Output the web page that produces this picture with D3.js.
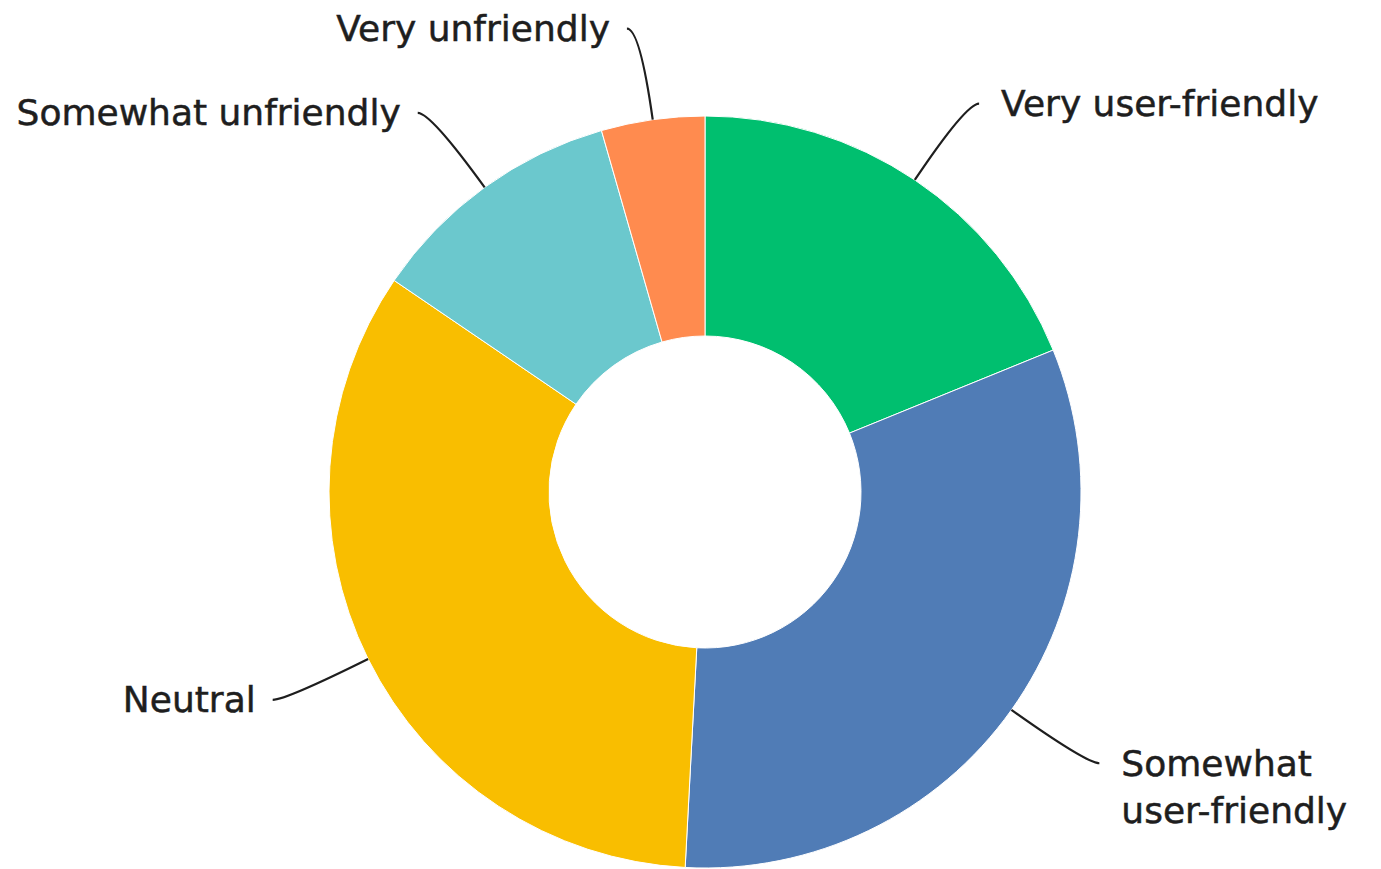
<!DOCTYPE html>
<html>
<head>
<meta charset="utf-8">
<script src="https://cdn.jsdelivr.net/npm/d3@7/dist/d3.min.js"></script>
<style>
  html, body { margin: 0; padding: 0; background: #fff; }
  svg { display: block; }
  .label { font-family: "DejaVu Sans", sans-serif; font-size: 36px; fill: #1e1e1e; stroke: #1e1e1e; stroke-width: 0.5px; }
</style>
</head>
<body>
<svg id="chart" width="1381" height="869"></svg>
<script>
// Survey answers, percent of respondents
const categories = ["Very user-friendly", "Somewhat user-friendly", "Neutral", "Somewhat unfriendly", "Very unfriendly"];
const values = [18.84, 32.0, 33.67, 11.05, 4.44];
const colors = ["#00BF6F", "#507CB6", "#F9BE00", "#6BC8CD", "#FF8B4F"];

const W = 1381, H = 869;
const cx = 705, cy = 492;
const outerR = 376, innerR = 156;
const leaderExt = 92;   // radial run of the leader line past the rim
const leaderTail = 13;  // horizontal end of the leader line
const capH = 25;        // approximate cap height of label text
const lineH = 47;

const data = categories.map((c, i) => ({ category: c, value: values[i], color: colors[i] }));

const svg = d3.select("#chart");
const g = svg.append("g").attr("transform", `translate(${cx},${cy})`);

const pie = d3.pie().value(d => d.value).sort(null);
const arcs = pie(data);

const arc = d3.arc().innerRadius(innerR).outerRadius(outerR);

g.selectAll("path.slice")
  .data(arcs)
  .join("path")
  .attr("class", "slice")
  .attr("d", arc)
  .attr("fill", d => d.data.color)
  .attr("stroke", "#fff")
  .attr("stroke-width", 1);

// Leader lines and labels
const polar = (r, a) => [r * Math.sin(a), -r * Math.cos(a)];

arcs.forEach(d => {
  const mid = (d.startAngle + d.endAngle) / 2;
  const right = Math.sin(mid) >= 0;
  const p0 = polar(outerR, mid);
  const c = polar(outerR + leaderExt, mid);
  const p2 = [c[0] + (right ? leaderTail : -leaderTail), c[1]];

  const path = d3.path();
  path.moveTo(p0[0], p0[1]);
  path.quadraticCurveTo(c[0], c[1], p2[0], p2[1]);
  g.append("path")
    .attr("d", path.toString())
    .attr("fill", "none")
    .attr("stroke", "#1e1e1e")
    .attr("stroke-width", 2.2);

  const tx = p2[0] + (right ? 22 : -17);
  const text = g.append("text")
    .attr("class", "label")
    .attr("text-anchor", right ? "start" : "end")
    .attr("x", tx)
    .attr("y", p2[1] + capH / 2);

  // wrap onto extra lines when the label would run past the edge
  const limit = right ? (W - cx) - tx - 8 : tx + cx - 8;
  const words = d.data.category.split(" ");
  let line = [];
  let tspan = text.append("tspan").attr("x", tx).attr("dy", 0);
  words.forEach(w => {
    line.push(w);
    tspan.text(line.join(" "));
    if (tspan.node().getComputedTextLength() > limit && line.length > 1) {
      line.pop();
      tspan.text(line.join(" "));
      line = [w];
      tspan = text.append("tspan").attr("x", tx).attr("dy", lineH).text(w);
    }
  });
});
</script>
</body>
</html>
